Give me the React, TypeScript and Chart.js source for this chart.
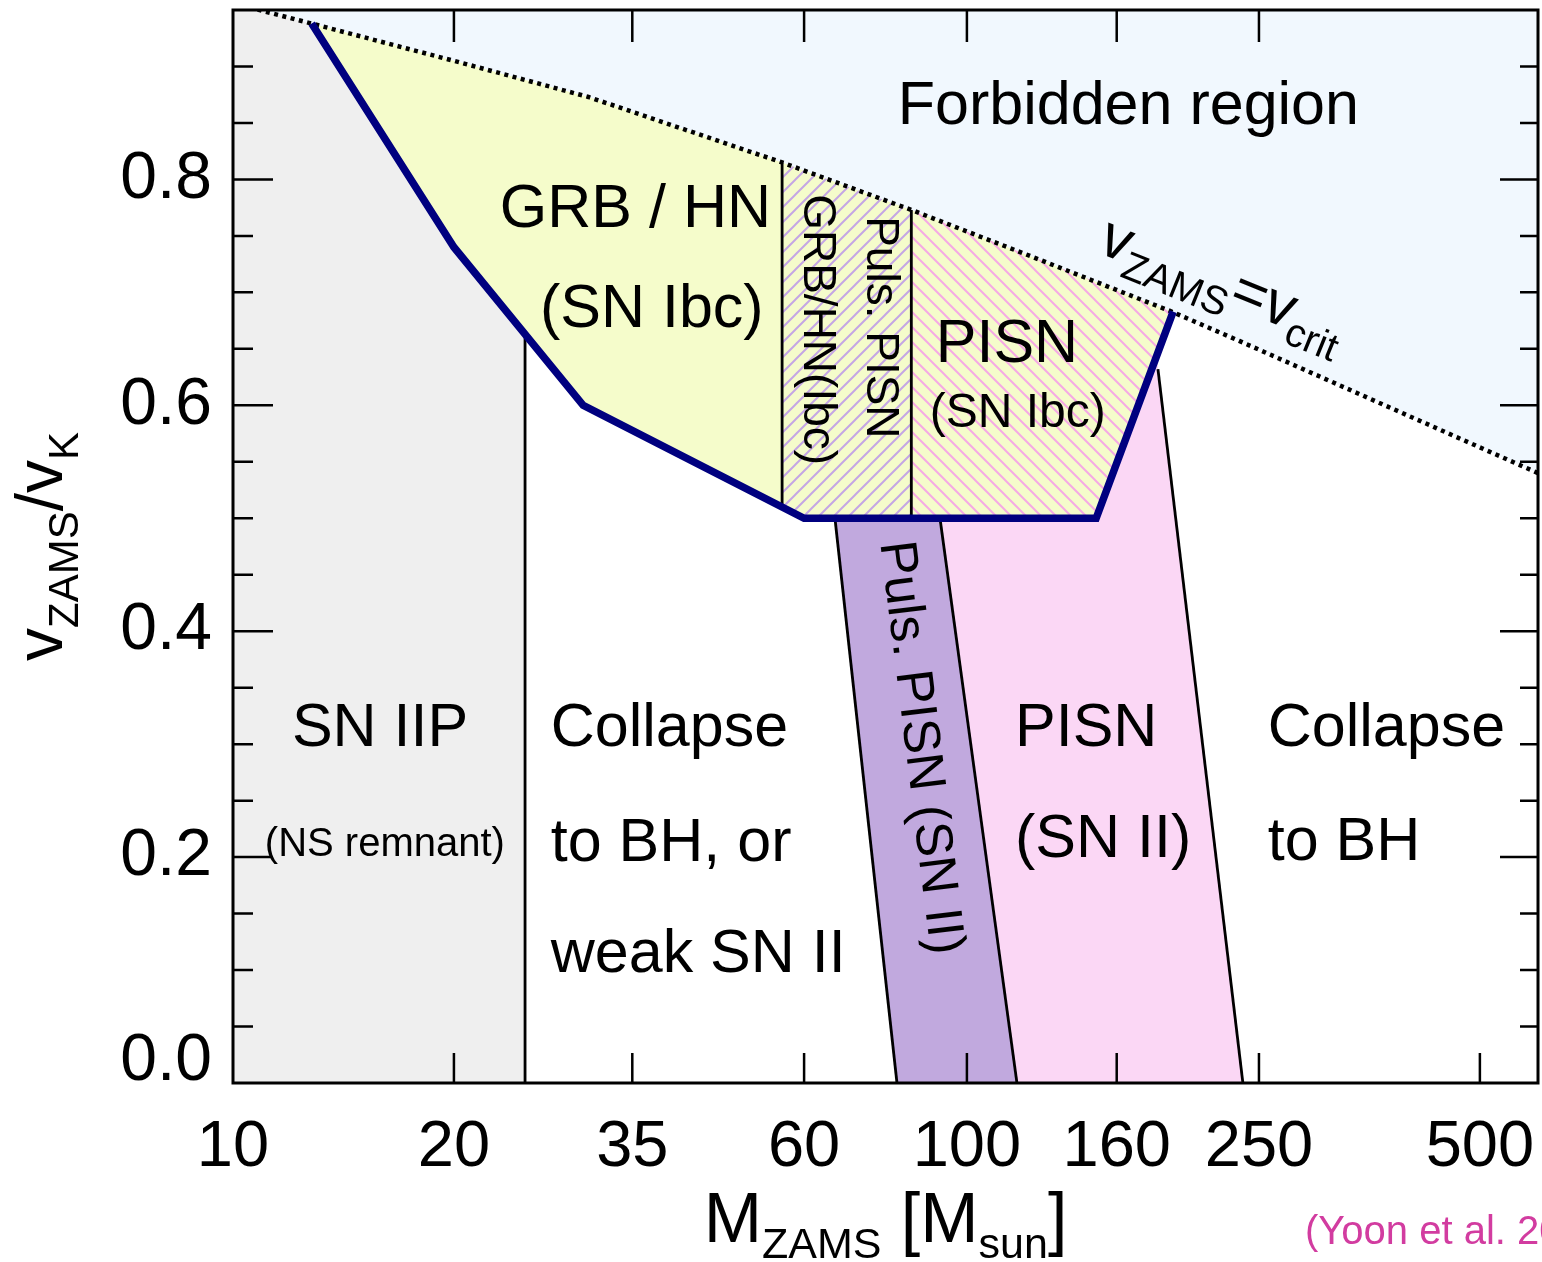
import React, { useEffect, useRef } from 'react';
import { Chart, registerables } from 'chart.js';

Chart.register(...registerables);

const FONT = "'Liberation Sans', Arial, Helvetica, sans-serif";

// ---- axis ticks ----
const X_TICKS = [10, 20, 35, 60, 100, 160, 250, 500];
const X_TICKS_TOP = [20, 35, 60, 100, 160, 250];
const Y_MAJOR = [0, 0.2, 0.4, 0.6, 0.8];
const Y_MINOR = [0.05, 0.1, 0.15, 0.25, 0.3, 0.35, 0.45, 0.5, 0.55, 0.65, 0.7, 0.75, 0.85, 0.9];

// ---- v_ZAMS = v_crit curve (dotted) ----
const CRIT_M = [10, 10.7, 12.8, 20, 30.5, 56, 84, 120, 190, 235, 600];
const CRIT_V = [0.956, 0.951, 0.938, 0.905, 0.873, 0.815, 0.773, 0.734, 0.683, 0.657, 0.54];

// ---- thick blue boundary (chemically homogeneous evolution) ----
const CHE_M = [12.8, 20, 30, 60, 150, 191];
const CHE_V = [0.938, 0.74, 0.6, 0.5, 0.5, 0.683];

// ---- filled regions (mass, v/vK) ----
const SNIIP_M = [10, 25, 25, 20, 12.8, 10.7, 10];
const SNIIP_V = [0, 0, 0.663, 0.74, 0.938, 0.951, 0.956];

const GRB_M = [12.8, 20, 30, 60, 150, 191, 190, 120, 84, 56, 30.5, 20];
const GRB_V = [0.938, 0.74, 0.6, 0.5, 0.5, 0.683, 0.683, 0.734, 0.773, 0.815, 0.873, 0.905];

const PPGRB_M = [56, 60, 84, 84, 56];
const PPGRB_V = [0.51, 0.5, 0.5, 0.773, 0.815];

const PISNIBC_M = [84, 150, 191, 190, 120, 84];
const PISNIBC_V = [0.5, 0.5, 0.683, 0.683, 0.734, 0.773];

const PPISN2_M = [66.1, 91.9, 117, 80.3];
const PPISN2_V = [0.5, 0.5, 0, 0];

const PISN2_M = [91.9, 150, 181.8, 182.1, 237.7, 117];
const PISN2_V = [0.5, 0.5, 0.642, 0.632, 0, 0];

const FORBID_M = [...CRIT_M, 600, 10];
const FORBID_V = [...CRIT_V, 1.0, 1.0];

// ---- thin black boundaries ----
const LINE_NS_BH_M = [25, 25];
const LINE_NS_BH_V = [0, 0.663];
const LINE_GRB_PP_M = [56, 56];
const LINE_GRB_PP_V = [0.51, 0.815];
const LINE_PP_PISN_M = [84, 84];
const LINE_PP_PISN_V = [0.5, 0.773];
const LINE_PP2_L_M = [66.1, 80.3];
const LINE_PP2_L_V = [0.5, 0];
const LINE_PP2_R_M = [91.9, 117];
const LINE_PP2_R_V = [0.5, 0];
const LINE_PISN2_R_M = [182.1, 237.7];
const LINE_PISN2_R_V = [0.632, 0];

// ---- annotations ----
type Lbl = { text: string; m: number; v: number; size: number; rot?: number; center?: boolean };
const REGION_LABELS: Lbl[] = [
  { text: 'Forbidden region', m: 80.5, v: 0.849, size: 61 },
  { text: 'GRB / HN', m: 23.1, v: 0.7575, size: 61 },
  { text: '(SN Ibc)', m: 26.2, v: 0.669, size: 61 },
  { text: 'PISN', m: 90.7, v: 0.638, size: 61 },
  { text: '(SN Ibc)', m: 89.0, v: 0.581, size: 48 },
  { text: 'SN IIP', m: 12.03, v: 0.2986, size: 61 },
  { text: '(NS remnant)', m: 11.05, v: 0.201, size: 40 },
  { text: 'Collapse', m: 27.1, v: 0.2986, size: 61 },
  { text: 'to BH, or', m: 27.1, v: 0.1967, size: 61 },
  { text: 'weak SN II', m: 27.1, v: 0.0983, size: 61 },
  { text: 'PISN', m: 116.3, v: 0.2986, size: 61 },
  { text: '(SN II)', m: 116.3, v: 0.2002, size: 61 },
  { text: 'Collapse', m: 257, v: 0.2986, size: 61 },
  { text: 'to BH', m: 257, v: 0.1976, size: 61 },
  { text: 'Puls. PISN', m: 76.1, v: 0.669, size: 46, rot: 90, center: true },
  { text: 'GRB/HN(Ibc)', m: 62.5, v: 0.667, size: 46, rot: 90, center: true },
  { text: 'Puls. PISN (SN II)', m: 86.3, v: 0.2968, size: 52, rot: 83, center: true },
];

type Part = { t: string; size: number; dy?: number };

function drawRich(ctx: CanvasRenderingContext2D, parts: Part[], x: number, y: number, angle: number, center: boolean) {
  ctx.save();
  ctx.translate(x, y);
  ctx.rotate((angle * Math.PI) / 180);
  ctx.textBaseline = 'alphabetic';
  ctx.textAlign = 'left';
  let total = 0;
  const widths = parts.map((p) => {
    ctx.font = `${p.size}px ${FONT}`;
    const w = ctx.measureText(p.t).width;
    total += w;
    return w;
  });
  let cx = center ? -total / 2 : 0;
  parts.forEach((p, i) => {
    ctx.font = `${p.size}px ${FONT}`;
    ctx.fillText(p.t, cx, p.dy || 0);
    cx += widths[i];
  });
  ctx.restore();
}

function pts(ms: number[], vs: number[]) {
  return ms.map((m, i) => ({ x: m, y: vs[i] }));
}

function makeHatch(color: string, dir: '/' | '\\', s: number, lw: number) {
  const c = document.createElement('canvas');
  c.width = s;
  c.height = s;
  const g = c.getContext('2d')!;
  g.strokeStyle = color;
  g.lineWidth = lw;
  g.beginPath();
  if (dir === '/') {
    g.moveTo(0, s); g.lineTo(s, 0);
    g.moveTo(-s, s); g.lineTo(s, -s);
    g.moveTo(0, 2 * s); g.lineTo(2 * s, 0);
  } else {
    g.moveTo(0, 0); g.lineTo(s, s);
    g.moveTo(-s, 0); g.lineTo(s, 2 * s);
    g.moveTo(0, -s); g.lineTo(2 * s, s);
  }
  g.stroke();
  return g.createPattern(c, 'repeat')!;
}

const zeroPadding = (s: any) => {
  s.paddingTop = 0;
  s.paddingBottom = 0;
  s.paddingLeft = 0;
  s.paddingRight = 0;
};

const decorPlugin = {
  id: 'decor',
  afterDatasetsDraw(chart: any) {
    const ctx: CanvasRenderingContext2D = chart.ctx;
    const xs = chart.scales.x;
    const ys = chart.scales.y;
    const a = chart.chartArea;
    ctx.save();
    ctx.beginPath();
    ctx.rect(a.left, a.top, a.right - a.left, a.bottom - a.top);
    ctx.clip();
    ctx.fillStyle = '#000';
    REGION_LABELS.forEach((l) => {
      const px = xs.getPixelForValue(l.m);
      const py = ys.getPixelForValue(l.v);
      ctx.save();
      ctx.translate(px, py);
      ctx.rotate(((l.rot || 0) * Math.PI) / 180);
      ctx.font = `${l.size}px ${FONT}`;
      ctx.textAlign = l.center ? 'center' : 'left';
      ctx.textBaseline = l.center ? 'middle' : 'alphabetic';
      ctx.fillText(l.text, 0, 0);
      ctx.restore();
    });
    // v_ZAMS = v_crit label along the curve
    drawRich(
      ctx,
      [
        { t: 'v', size: 60 },
        { t: 'ZAMS', size: 40, dy: 14 },
        { t: '=v', size: 60 },
        { t: 'crit', size: 40, dy: 14 },
      ],
      xs.getPixelForValue(150),
      ys.getPixelForValue(0.736),
      22,
      false
    );
    ctx.restore();

    // tick marks
    ctx.save();
    ctx.strokeStyle = '#000';
    ctx.lineWidth = 2.5;
    ctx.beginPath();
    X_TICKS.forEach((v) => {
      if (v <= 10) return;
      const p = xs.getPixelForValue(v);
      ctx.moveTo(p, a.bottom);
      ctx.lineTo(p, a.bottom - 30);
    });
    X_TICKS_TOP.forEach((v) => {
      const p = xs.getPixelForValue(v);
      ctx.moveTo(p, a.top);
      ctx.lineTo(p, a.top + 32);
    });
    Y_MAJOR.forEach((v) => {
      if (v <= 0) return;
      const p = ys.getPixelForValue(v);
      ctx.moveTo(a.left, p);
      ctx.lineTo(a.left + 40, p);
      ctx.moveTo(a.right, p);
      ctx.lineTo(a.right - 38, p);
    });
    Y_MINOR.forEach((v) => {
      const p = ys.getPixelForValue(v);
      ctx.moveTo(a.left, p);
      ctx.lineTo(a.left + 20, p);
      ctx.moveTo(a.right, p);
      ctx.lineTo(a.right - 18, p);
    });
    ctx.stroke();
    ctx.lineWidth = 3;
    ctx.strokeRect(a.left, a.top, a.right - a.left, a.bottom - a.top);
    ctx.restore();

    // axis titles
    ctx.save();
    ctx.fillStyle = '#000';
    drawRich(
      ctx,
      [
        { t: 'M', size: 70 },
        { t: 'ZAMS', size: 43, dy: 16 },
        { t: ' [M', size: 70 },
        { t: 'sun', size: 43, dy: 16 },
        { t: ']', size: 70 },
      ],
      (a.left + a.right) / 2,
      a.bottom + 159,
      0,
      true
    );
    drawRich(
      ctx,
      [
        { t: 'v', size: 66 },
        { t: 'ZAMS', size: 42, dy: 16 },
        { t: '/v', size: 66 },
        { t: 'K', size: 42, dy: 16 },
      ],
      a.left - 171,
      (a.top + a.bottom) / 2,
      -90,
      true
    );
    ctx.fillStyle = '#d23ca0';
    ctx.font = `40px ${FONT}`;
    ctx.textAlign = 'left';
    ctx.textBaseline = 'alphabetic';
    ctx.fillText('(Yoon et al. 2006)', a.right - 233, a.bottom + 161);
    ctx.restore();
  },
};

export default function App() {
  const ref = useRef<HTMLCanvasElement | null>(null);

  useEffect(() => {
    if (!ref.current) return;
    const lavender = makeHatch('#c4a6e4', '/', 15, 2);
    const pinkHatch = makeHatch('#f5aae4', '\\', 15, 2);

    const fillDs = (ms: number[], vs: number[], color: any, order: number) => ({
      type: 'line' as const,
      data: pts(ms, vs),
      fill: 'shape',
      backgroundColor: color,
      borderColor: 'rgba(0,0,0,0)',
      borderWidth: 0,
      pointRadius: 0,
      tension: 0,
      order,
    });
    const lineDs = (ms: number[], vs: number[], color: string, width: number, order: number, dash: number[] = []) => ({
      type: 'line' as const,
      data: pts(ms, vs),
      fill: false,
      borderColor: color,
      borderWidth: width,
      borderDash: dash,
      borderCapStyle: 'butt',
      borderJoinStyle: 'miter',
      pointRadius: 0,
      tension: 0,
      order,
    });

    const datasets: any[] = [
      fillDs(FORBID_M, FORBID_V, '#f1f8fe', 100),
      fillDs(SNIIP_M, SNIIP_V, '#efefef', 99),
      fillDs(GRB_M, GRB_V, '#f5fccb', 98),
      fillDs(PPGRB_M, PPGRB_V, lavender, 97),
      fillDs(PISNIBC_M, PISNIBC_V, pinkHatch, 96),
      fillDs(PISN2_M, PISN2_V, '#fbd7f5', 95),
      fillDs(PPISN2_M, PPISN2_V, '#c1a9de', 94),
      lineDs(LINE_NS_BH_M, LINE_NS_BH_V, '#000', 2.8, 10),
      lineDs(LINE_GRB_PP_M, LINE_GRB_PP_V, '#000', 2.8, 10),
      lineDs(LINE_PP_PISN_M, LINE_PP_PISN_V, '#000', 2.8, 10),
      lineDs(LINE_PP2_L_M, LINE_PP2_L_V, '#000', 2.8, 10),
      lineDs(LINE_PP2_R_M, LINE_PP2_R_V, '#000', 2.8, 10),
      lineDs(LINE_PISN2_R_M, LINE_PISN2_R_V, '#000', 2.8, 10),
      lineDs(CRIT_M, CRIT_V, '#000', 4.5, 5, [4, 4.5]),
      lineDs(CHE_M, CHE_V, '#00007f', 7.5, 1),
    ];

    const chart = new Chart(ref.current, {
      type: 'line',
      data: { datasets },
      options: {
        animation: false,
        responsive: false,
        devicePixelRatio: 1,
        events: [],
        layout: { padding: { top: 10, right: 4, left: 0, bottom: 0 } },
        plugins: {
          legend: { display: false },
          tooltip: { enabled: false },
          title: { display: false },
        },
        scales: {
          x: {
            type: 'logarithmic',
            min: 10,
            max: 600,
            position: 'bottom',
            grid: { display: false, drawTicks: false },
            border: { display: false },
            ticks: {
              font: { family: FONT, size: 65 },
              color: '#000',
              padding: 26,
              maxRotation: 0,
              minRotation: 0,
              autoSkip: false,
              callback: (v: any) => String(v),
            },
            afterBuildTicks: (s: any) => {
              s.ticks = X_TICKS.map((v) => ({ value: v }));
            },
            afterFit: (s: any) => {
              s.height = 179;
              zeroPadding(s);
            },
          },
          y: {
            type: 'linear',
            min: 0,
            max: 0.95,
            grid: { display: false, drawTicks: false },
            border: { display: false },
            ticks: {
              font: (c: any) => ({
                family: FONT,
                size: 66,
                lineHeight: c.tick && c.tick.value === 0 ? '42px' : 1.2,
              }),
              color: '#000',
              padding: 21,
              autoSkip: false,
              callback: (v: any) => (Number(v) === 0 ? ['0.0', ''] : Number(v).toFixed(1)),
            },
            afterBuildTicks: (s: any) => {
              s.ticks = Y_MAJOR.map((v) => ({ value: v }));
            },
            afterFit: (s: any) => {
              s.width = 233;
              zeroPadding(s);
            },
          },
        },
      } as any,
      plugins: [decorPlugin],
    });
    return () => chart.destroy();
  }, []);

  return (
    <div style={{ position: 'absolute', left: 0, top: 0, width: 1542, height: 1262, background: '#fff', overflow: 'hidden' }}>
      <canvas ref={ref} width={1542} height={1262} style={{ display: 'block' }} />
    </div>
  );
}
